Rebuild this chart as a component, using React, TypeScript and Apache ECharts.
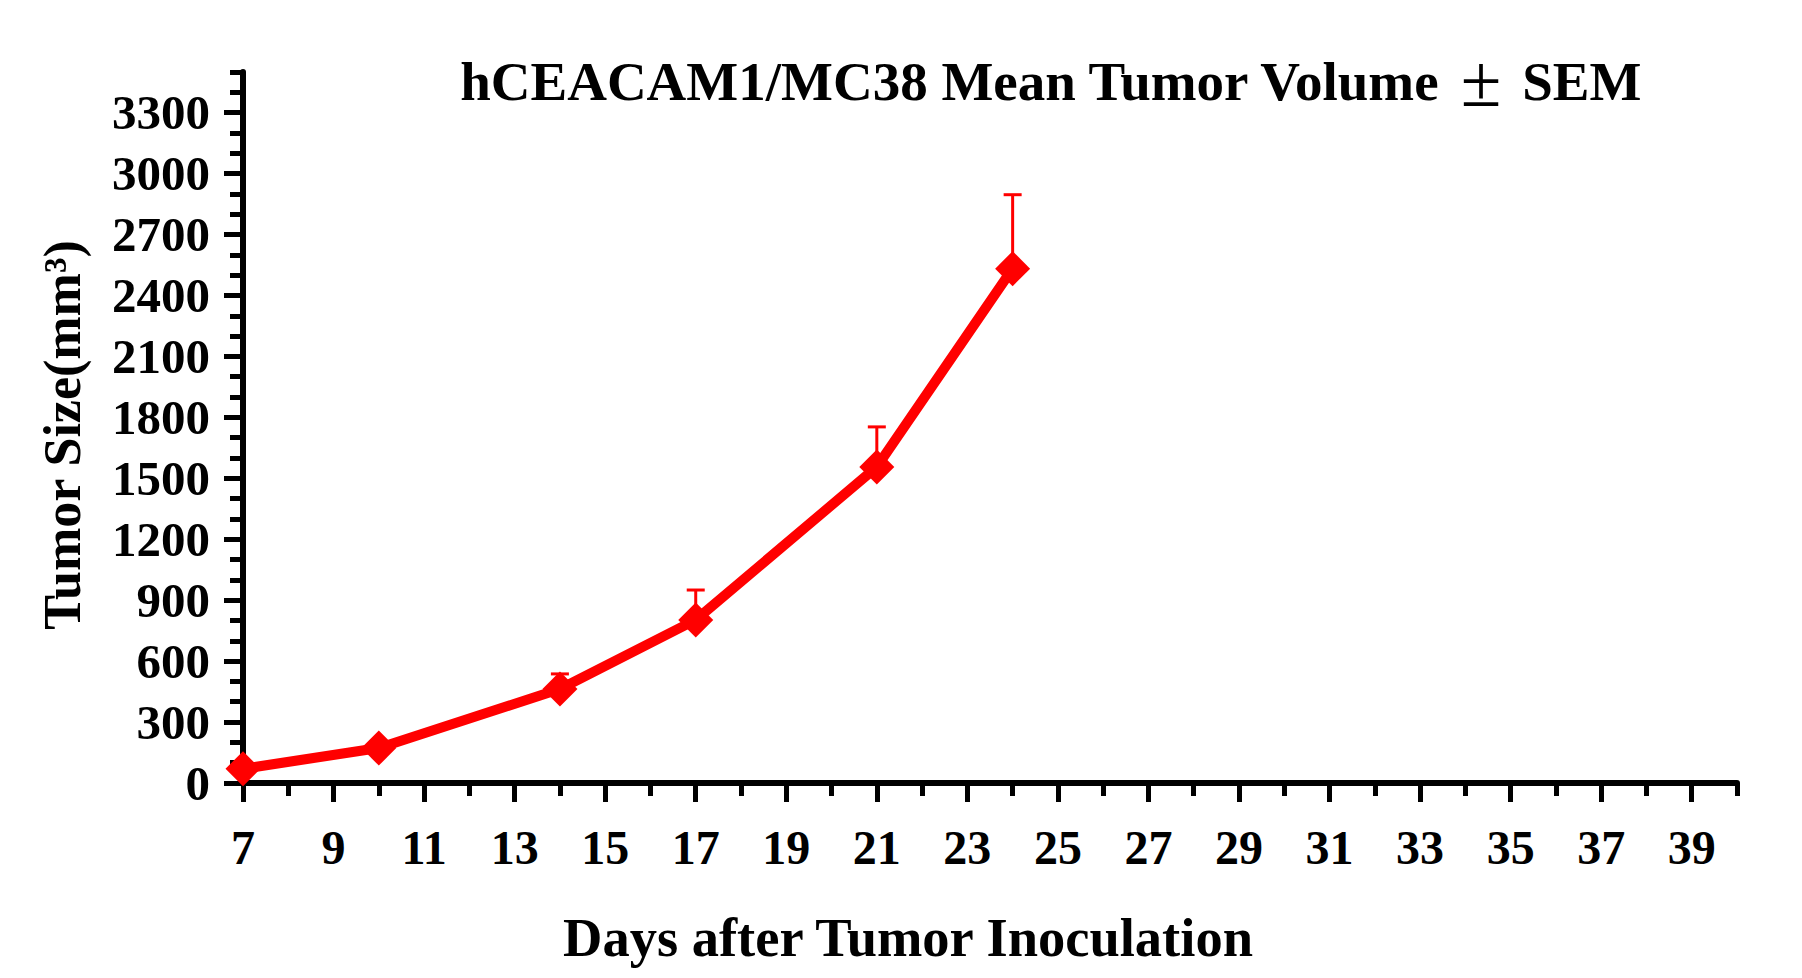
import React, { useEffect, useRef } from "react";
import * as echarts from "echarts";

const days = [7, 10, 14, 17, 21, 24];
const meanVolume = [70, 172, 463, 803, 1556, 2532];
const semVolume = [20, 30, 74, 147, 197, 364];

const xMajorTicks = [7, 9, 11, 13, 15, 17, 19, 21, 23, 25, 27, 29, 31, 33, 35, 37, 39];
const xMinorTicks = [8, 10, 12, 14, 16, 18, 20, 22, 24, 26, 28, 30, 32, 34, 36, 38, 40];
const yMajorTicks = [0, 300, 600, 900, 1200, 1500, 1800, 2100, 2400, 2700, 3000, 3300];
const yMinorTicks = [
  100, 200, 400, 500, 700, 800, 1000, 1100, 1300, 1400, 1600, 1700, 1900, 2000,
  2200, 2300, 2500, 2600, 2800, 2900, 3100, 3200, 3400, 3500,
];

const titleText = "hCEACAM1/MC38 Mean Tumor Volume ";
const xTitle = "Days after Tumor Inoculation";
const yTitle = "Tumor Size(mm³)";

const FONT = "'Liberation Serif', 'Times New Roman', serif";
const RED = "#ff0000";

export default function App() {
  const ref = useRef<HTMLDivElement>(null);

  useEffect(() => {
    document.body.style.margin = "0";
    if (!ref.current) return;
    const chart = echarts.init(ref.current, undefined, { renderer: "svg" });

    const lineData = days.map((d, i) => [d, meanVolume[i]]);
    const errData = days.map((d, i) => [d, meanVolume[i], semVolume[i]]);

    const baseAxisCommon = {
      type: "value" as const,
      splitLine: { show: false },
    };

    const option: any = {
      animation: false,
      backgroundColor: "#ffffff",
      grid: { left: 243, right: 65, top: 72, bottom: 195, containLabel: false },
      xAxis: [
        {
          ...baseAxisCommon,
          min: 7,
          max: 40,
          position: "bottom",
          axisLine: { show: true, onZero: false, lineStyle: { color: "#000", width: 6 } },
          axisTick: {
            show: true,
            customValues: xMajorTicks,
            length: 19,
            lineStyle: { color: "#000", width: 5 },
          },
          axisLabel: {
            show: true,
            customValues: xMajorTicks,
            formatter: (v: number) => String(v),
            margin: 40,
            color: "#000",
            fontFamily: FONT,
            fontWeight: "bold",
            fontSize: 48,
          },
        },
        {
          ...baseAxisCommon,
          min: 7,
          max: 40,
          position: "bottom",
          offset: 0,
          axisLine: { show: false, onZero: false },
          axisTick: {
            show: true,
            customValues: xMinorTicks,
            length: 13,
            lineStyle: { color: "#000", width: 5 },
          },
          axisLabel: { show: false },
        },
      ],
      yAxis: [
        {
          ...baseAxisCommon,
          min: 0,
          max: 3500,
          position: "left",
          axisLine: { show: true, onZero: false, lineStyle: { color: "#000", width: 6 } },
          axisTick: {
            show: true,
            customValues: yMajorTicks,
            length: 19,
            lineStyle: { color: "#000", width: 5 },
          },
          axisLabel: {
            show: true,
            customValues: yMajorTicks,
            formatter: (v: number) => String(v),
            margin: 33,
            color: "#000",
            fontFamily: FONT,
            fontWeight: "bold",
            fontSize: 49,
          },
        },
        {
          ...baseAxisCommon,
          min: 0,
          max: 3500,
          position: "left",
          offset: 0,
          axisLine: { show: false, onZero: false },
          axisTick: {
            show: true,
            customValues: yMinorTicks,
            length: 13,
            lineStyle: { color: "#000", width: 5 },
          },
          axisLabel: { show: false },
        },
      ],
      series: [
        {
          type: "custom",
          name: "SEM",
          xAxisIndex: 0,
          yAxisIndex: 0,
          encode: { x: 0, y: 1 },
          data: errData,
          z: 1,
          renderItem: (params: any, api: any) => {
            const x = api.value(0);
            const m = api.value(1);
            const s = api.value(2);
            const p0 = api.coord([x, m]);
            const p1 = api.coord([x, m + s]);
            const style = { stroke: RED, lineWidth: 3 };
            return {
              type: "group",
              children: [
                { type: "line", shape: { x1: p0[0], y1: p0[1], x2: p1[0], y2: p1[1] }, style },
                { type: "line", shape: { x1: p1[0] - 9, y1: p1[1], x2: p1[0] + 9, y2: p1[1] }, style },
              ],
            };
          },
        },
        {
          type: "line",
          name: "Mean",
          xAxisIndex: 0,
          yAxisIndex: 0,
          data: lineData,
          z: 2,
          symbol: "diamond",
          symbolSize: [35, 35],
          showAllSymbol: true,
          lineStyle: { color: RED, width: 10 },
          itemStyle: { color: RED },
        },
      ],
      graphic: [
        {
          type: "text",
          x: 1050,
          y: 81,
          style: {
            text: "{b|" + titleText + "}{n|±}{b| SEM}",
            align: "center",
            verticalAlign: "middle",
            fontFamily: FONT,
            fontSize: 55,
            fontWeight: "bold",
            fill: "#000",
            rich: {
              b: { fontFamily: FONT, fontSize: 55, fontWeight: "bold", fill: "#000" },
              n: {
                fontFamily: FONT,
                fontSize: 74,
                fontWeight: "normal",
                fill: "#000",
                verticalAlign: "middle",
                padding: [0, 7, 0, 7],
              },
            },
          },
        },
        {
          type: "text",
          x: 908,
          y: 937,
          style: {
            text: xTitle,
            align: "center",
            verticalAlign: "middle",
            fontFamily: FONT,
            fontSize: 54.5,
            fontWeight: "bold",
            fill: "#000",
          },
        },
        {
          type: "text",
          x: 62,
          y: 435,
          rotation: Math.PI / 2,
          style: {
            text: yTitle,
            align: "center",
            verticalAlign: "middle",
            fontFamily: FONT,
            fontSize: 52,
            fontWeight: "bold",
            fill: "#000",
          },
        },
      ],
    };

    chart.setOption(option);
    return () => {
      chart.dispose();
    };
  }, []);

  return <div ref={ref} style={{ width: 1802, height: 978 }} />;
}
